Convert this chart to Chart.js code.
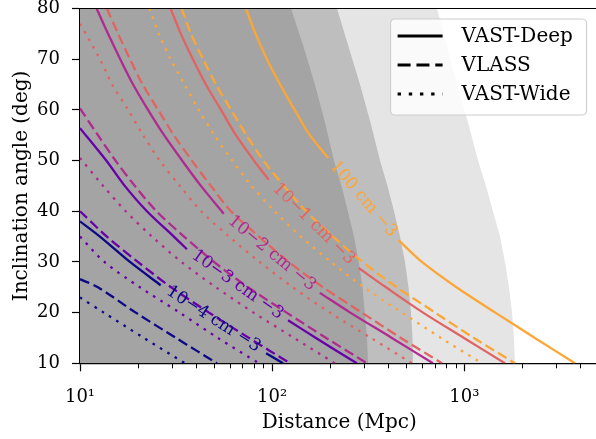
<!DOCTYPE html>
<html>
<head>
<meta charset="utf-8">
<script src="https://cdn.jsdelivr.net/npm/chart.js@4.4.0/dist/chart.umd.min.js"></script>
<style>
  html, body { margin: 0; padding: 0; overflow: hidden; background: #fff; }
  #wrap { width: 602px; height: 439px; }
</style>
</head>
<body>
<div id="wrap"><canvas id="chart" width="602" height="439"></canvas></div>
<script>
// axis ticks
const majorTicks = [10, 100, 1000];
const majorTickText = ['10\u00b9', '10\u00b2', '10\u00b3'];
const minorTicks = [20, 30, 40, 50, 60, 70, 80, 90, 200, 300, 400, 500, 600, 700, 800, 900, 2000, 3000, 4000];

const surveys = ['VAST-Deep', 'VLASS', 'VAST-Wide'];
const densityLabels = ['10\u22124 cm \u22123', '10\u22123 cm \u22123', '10\u22122 cm \u22123', '10\u22121 cm \u22123', '100 cm \u22123'];

// [distance (Mpc), inclination (deg)]; null = gap left for the contour label
const deepN4 = [[10, 38], [12.7, 35], [18.2, 30], [26.3, 25.4], null, [93, 12], [114, 10]];
const deepN3 = [[10, 56.4], [13.7, 50], [17.1, 45], [22.3, 40], [30.8, 35], [36, 32.5], null, [121, 18.5], [169, 15], [276, 10]];
const deepN2 = [[12.2, 80], [14, 75], [16.2, 70], [18.9, 65], [22.6, 60], [27.4, 55], [34, 50], [42.6, 45], [56, 39.5], null, [177, 23.9], [255, 20], [420, 15], [687, 10]];
const deepN1 = [[29.6, 80], [33.5, 75], [38.7, 70], [45.2, 65], [54.2, 60], [64.8, 55], [80.4, 50], [96, 46.2], null, [282, 28.8], [391, 25], [610, 20], [996, 15], [1628, 10]];
const deep0 = [[73, 80], [82, 75], [94, 70], [110, 65], [131, 60], [157, 55], [196, 50.5], null, [455, 34.3], [602, 30], [910, 25], [1450, 20], [2330, 15], [3768, 10]];

const vlassN4 = [[10, 26.6], [12.4, 25], [19.5, 20], [31.6, 15], [51.6, 10]];
const vlassN3 = [[10, 40], [13.8, 35], [20, 30], [29.8, 25], [46.9, 20], [75.8, 15], [124, 10]];
const vlassN2 = [[10, 60.3], [12.4, 55], [15.3, 50], [19.3, 45], [25, 40], [34.8, 35], [49.8, 30], [74.9, 25], [119, 20], [191, 15], [312, 10]];
const vlassN1 = [[13.8, 80], [15.8, 75], [18.2, 70], [21.2, 65], [25.5, 60], [30.8, 55], [38.2, 50], [48, 45], [61, 40], [85.4, 35], [122, 30], [184, 25], [293, 20], [468, 15], [766, 10]];
const vlass0 = [[33.8, 80], [37.8, 75], [43.7, 70], [51, 65], [61.1, 60], [73.5, 55], [90, 50], [115, 45], [150, 40], [207, 35], [295, 30], [445, 25], [705, 20], [1122, 15], [1835, 10]];

const wideN4 = [[10, 23], [13.3, 20], [21.5, 15], [35.2, 10]];
const wideN3 = [[10, 35], [13.4, 30], [20.5, 25], [33, 20], [52.2, 15], [85.4, 10]];
const wideN2 = [[10, 50.5], [13.2, 45], [17.3, 40], [23.7, 35], [33.7, 30], [51, 25], [80, 20], [130, 15], [212, 10]];
const wideN1 = [[10, 77], [12.7, 70], [14.7, 65], [17.8, 60], [21.3, 55], [26, 50], [33.1, 45], [42.7, 40], [59.6, 35], [86, 30], [128, 25], [200, 20], [327, 15], [534, 10]];
const wide0 = [[23, 80], [25.7, 75], [29.6, 70], [35, 65], [41.5, 60], [50, 55], [62, 50], [78, 45], [103, 40], [141, 35], [202, 30], [300, 25], [474, 20], [756, 15], [1236, 10]];

// shaded regions: boundary of each region, filled towards the left
const regionDark = [[10, 80], [125.3, 80], [145.6, 72.5], [167, 65], [188.4, 57.5], [209.7, 50], [229.6, 45], [247.7, 40], [266.7, 35], [282.3, 30], [295.3, 25], [303.3, 20], [311.6, 15], [315.4, 10]];
const regionMid = [[10, 80], [217.5, 80], [249.6, 72.5], [286.6, 65], [324.9, 57.5], [364.2, 50], [398.4, 45], [430.7, 40], [462.9, 35], [491.3, 30], [512.5, 25], [528, 20], [537.6, 15], [540.8, 10]];
const regionLight = [[10, 80], [721, 80], [812.8, 72.5], [916, 65], [1045.5, 57.5], [1179, 50], [1297, 45], [1410, 40], [1534, 35], [1628, 30], [1709, 25], [1772, 20], [1814, 15], [1836, 10]];

const plasma = ['#0d0887', '#6a00a8', '#b12a90', '#e16462', '#fca636'];
const dashes = [[], [10, 4.5], [2.6, 6]];
const fontFamily = '"DejaVu Serif", serif';

const lineSets = [
  [deepN4, deepN3, deepN2, deepN1, deep0],
  [vlassN4, vlassN3, vlassN2, vlassN1, vlass0],
  [wideN4, wideN3, wideN2, wideN1, wide0]
];

function toPoints(arr) {
  const out = [];
  arr.forEach((p, i) => {
    if (p) out.push({ x: p[0], y: p[1] });
    else out.push({ x: arr[i - 1][0], y: null });
  });
  return out;
}

const datasets = [];
lineSets.forEach((set, s) => {
  set.forEach((arr, d) => {
    datasets.push({
      data: toPoints(arr),
      borderColor: plasma[d],
      borderWidth: 2.3,
      borderDash: dashes[s],
      borderCapStyle: 'butt',
      pointRadius: 0,
      fill: false,
      spanGaps: false,
      tension: 0.3,
      order: 0,
      survey: s,
      density: d
    });
  });
});

[[regionLight, '#e5e5e5', 30], [regionMid, '#bebebe', 20], [regionDark, '#a4a4a4', 10]].forEach(([arr, col, ord]) => {
  datasets.push({
    data: toPoints(arr),
    borderColor: 'transparent',
    borderWidth: 1,
    backgroundColor: col,
    fill: 'start',
    pointRadius: 0,
    tension: 0,
    order: ord
  });
});

const contourLabels = {
  id: 'contourLabels',
  afterDatasetsDraw(chart) {
    const { ctx, scales: { x, y } } = chart;
    chart.data.datasets.forEach(ds => {
      if (ds.survey !== 0) return;
      const i = ds.data.findIndex(p => p.y === null);
      if (i < 1) return;
      const a = ds.data[i - 1], b = ds.data[i + 1];
      const ax = x.getPixelForValue(a.x), ay = y.getPixelForValue(a.y);
      const bx = x.getPixelForValue(b.x), by = y.getPixelForValue(b.y);
      ctx.save();
      ctx.translate((ax + bx) / 2, (ay + by) / 2);
      ctx.rotate(Math.atan2(by - ay, bx - ax));
      ctx.font = '17px ' + fontFamily;
      ctx.fillStyle = ds.borderColor;
      ctx.textAlign = 'center';
      ctx.textBaseline = 'middle';
      ctx.fillText(densityLabels[ds.density], 0, 0);
      ctx.restore();
    });
  }
};

const frameAndLegend = {
  id: 'frameAndLegend',
  afterDraw(chart) {
    const { ctx, chartArea: a, scales: { x } } = chart;
    ctx.save();
    // minor ticks
    ctx.strokeStyle = '#000';
    ctx.lineWidth = 1;
    minorTicks.forEach(v => {
      const px = Math.round(x.getPixelForValue(v)) + 0.5;
      ctx.beginPath();
      ctx.moveTo(px, a.bottom);
      ctx.lineTo(px, a.bottom + 5);
      ctx.stroke();
    });
    // top and right spines
    ctx.lineWidth = 1.2;
    ctx.beginPath();
    ctx.moveTo(a.left, a.top);
    ctx.lineTo(a.right, a.top);
    ctx.lineTo(a.right, a.bottom);
    ctx.stroke();

    // legend
    const bx = a.right - 208, by = a.top + 10.5, bw = 196, bh = 96;
    ctx.beginPath();
    ctx.roundRect(bx, by, bw, bh, 4);
    ctx.fillStyle = 'rgba(255,255,255,0.8)';
    ctx.fill();
    ctx.strokeStyle = '#cccccc';
    ctx.lineWidth = 1;
    ctx.stroke();
    ctx.font = '20px ' + fontFamily;
    ctx.textBaseline = 'middle';
    ctx.textAlign = 'left';
    surveys.forEach((name, i) => {
      const ly = by + 17 + i * 29;
      ctx.strokeStyle = '#000';
      ctx.lineWidth = 2.8;
      ctx.setLineDash(dashes[i].map(v => v * 1.3));
      ctx.beginPath();
      ctx.moveTo(bx + 7, ly);
      ctx.lineTo(bx + 52, ly);
      ctx.stroke();
      ctx.setLineDash([]);
      ctx.fillStyle = '#000';
      ctx.fillText(name, bx + 71, ly + 1);
    });
    ctx.restore();
  }
};

new Chart(document.getElementById('chart'), {
  type: 'line',
  data: { datasets },
  options: {
    responsive: false,
    animation: false,
    devicePixelRatio: 1,
    layout: { padding: { top: 8.5, right: 3.4, left: 0, bottom: 0 } },
    plugins: { legend: { display: false }, tooltip: { enabled: false } },
    scales: {
      x: {
        type: 'logarithmic',
        min: 10,
        max: 5000,
        afterBuildTicks: s => { s.ticks = majorTicks.map(v => ({ value: v })); },
        afterFit: s => { s.height = 75.7; s.paddingLeft = 0; s.paddingRight = 0; },
        ticks: {
          callback: (v, i) => majorTickText[i],
          font: { family: fontFamily, size: 18 },
          color: '#000',
          padding: 15,
          maxRotation: 0,
          autoSkip: false
        },
        grid: { drawOnChartArea: false, drawTicks: true, tickLength: 8, tickColor: '#000', tickWidth: 1.2 },
        border: { color: '#000', width: 1.2 },
        title: { display: true, text: 'Distance (Mpc)', color: '#000', font: { family: fontFamily, size: 20 }, padding: { top: 0, bottom: 4 } }
      },
      y: {
        min: 10,
        max: 80,
        afterFit: s => { s.width = 80; s.paddingTop = 0; s.paddingBottom = 0; },
        ticks: { stepSize: 10, font: { family: fontFamily, size: 18 }, color: '#000', padding: 12 },
        grid: { drawOnChartArea: false, drawTicks: true, tickLength: 8, tickColor: '#000', tickWidth: 1.2 },
        border: { color: '#000', width: 1.2 },
        title: { display: true, text: 'Inclination angle (deg)', color: '#000', font: { family: fontFamily, size: 20 }, padding: { top: 10, bottom: 0 } }
      }
    }
  },
  plugins: [contourLabels, frameAndLegend]
});
</script>
</body>
</html>
